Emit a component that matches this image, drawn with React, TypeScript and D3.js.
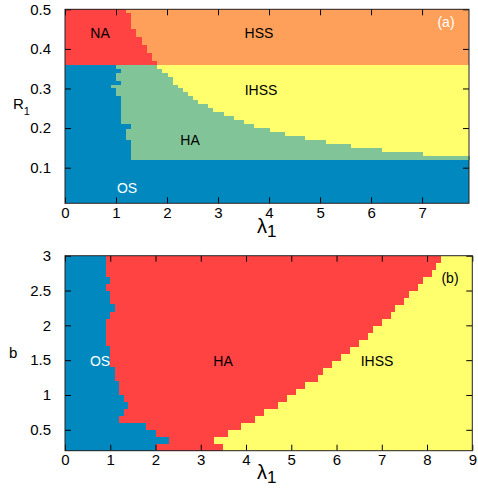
import React, { useEffect, useRef } from 'react'
import * as d3 from 'd3'

// colours of the phases
const cOS = '#0088bf'
const cHA = '#80c498'
const cIHSS = '#ffff6e'
const cHSS = '#ffa05a'
const cNA = '#ff4242'

// ---- panel (a): lambda_1 vs R_1 ----
const xTicksA = [0, 1, 2, 3, 4, 5, 6, 7]
const yTicksA = [0.1, 0.2, 0.3, 0.4, 0.5]

// NA region: rows (lower R of each band) and right edge in lambda_1
const naRows = [0.36, 0.37, 0.39, 0.41, 0.43, 0.45, 0.49]
const naEdge = [1.8, 1.7, 1.6, 1.5, 1.4, 1.3, 1.2]

// OS / HA border between R1 = 0.12 and 0.36, one value per 0.01 row
const rowsA = [0.12, 0.13, 0.14, 0.15, 0.16, 0.17, 0.18, 0.19, 0.2, 0.21, 0.22, 0.23,
  0.24, 0.25, 0.26, 0.27, 0.28, 0.29, 0.3, 0.31, 0.32, 0.33, 0.34, 0.35]
const osEdgeA = [1.3, 1.3, 1.3, 1.3, 1.3, 1.2, 1.2, 1.2, 1.3, 1.1, 1.1, 1.1,
  1.1, 1.1, 1.1, 1.1, 1.0, 1.0, 0.9, 1.1, 1.0, 1.0, 1.1, 1.0]

// HA / IHSS border: column start in lambda_1 and top of HA in R1
const haColStart = [0, 1.8, 1.9, 2.0, 2.1, 2.2, 2.3, 2.4, 2.5, 2.6, 2.8, 2.9, 3.1, 3.3,
  3.5, 3.7, 4.0, 4.3, 4.7, 5.1, 5.6, 6.2, 7.0]
const haTopA = [0.36, 0.35, 0.34, 0.33, 0.31, 0.3, 0.29, 0.28, 0.27, 0.26, 0.25, 0.24, 0.23, 0.22,
  0.21, 0.2, 0.19, 0.18, 0.17, 0.16, 0.15, 0.14, 0.13]

// ---- panel (b): lambda_1 vs b ----
const xTicksB = [0, 1, 2, 3, 4, 5, 6, 7, 8, 9]
const yTicksB = [0.5, 1, 1.5, 2, 2.5, 3]
const rowsB = [0.2, 0.3, 0.4, 0.5, 0.6, 0.7, 0.8, 0.9, 1.0, 1.1, 1.2, 1.3, 1.4, 1.5,
  1.6, 1.7, 1.8, 1.9, 2.0, 2.1, 2.2, 2.3, 2.4, 2.5, 2.6, 2.7, 2.8, 2.9]
const osEdgeB = [2.0, 2.3, 2.0, 1.8, 1.2, 1.3, 1.4, 1.3, 1.2, 1.2, 1.1, 1.1, 1.0, 1.0,
  1.0, 0.9, 0.9, 0.9, 0.9, 1.0, 1.1, 1.0, 1.0, 0.9, 1.0, 0.9, 0.9, 0.9]
const haEdgeB = [3.5, 3.3, 3.6, 3.9, 4.2, 4.4, 4.7, 4.9, 5.1, 5.3, 5.6, 5.7, 5.9, 6.1,
  6.3, 6.5, 6.7, 6.8, 7.0, 7.2, 7.3, 7.5, 7.6, 7.8, 7.9, 8.1, 8.2, 8.3]

const font = '"Liberation Sans", Arial, sans-serif'

const xA = d3.scaleLinear().domain([0, 7.92]).range([65, 469])
const yA = d3.scaleLinear().domain([0.01, 0.5]).range([203.3, 9.3])
const xB = d3.scaleLinear().domain([0, 9]).range([65, 472.3])
const yB = d3.scaleLinear().domain([0.2, 3]).range([450.7, 255.7])

type Lin = d3.ScaleLinear<number, number>

const Axes = ({ x, y, xt, yt }: { x: Lin; y: Lin; xt: number[]; yt: number[] }) => {
  const ref = useRef<SVGGElement>(null)
  useEffect(() => {
    const g = d3.select(ref.current)
    g.selectAll('*').remove()
    const [x0, x1] = x.range()
    const [y0, y1] = y.range()
    const fmt = d3.format('~g')
    g.append('g').attr('transform', `translate(0,${y0})`)
      .call(d3.axisBottom(x).tickValues(xt).tickSize(-6).tickPadding(4).tickFormat(fmt))
    g.append('g').attr('transform', `translate(${x0},0)`)
      .call(d3.axisLeft(y).tickValues(yt).tickSize(-6).tickPadding(14).tickFormat(fmt))
    g.append('g').attr('transform', `translate(0,${y1})`)
      .call(d3.axisTop(x).tickValues(xt).tickSize(-6).tickFormat(() => ''))
    g.append('g').attr('transform', `translate(${x1},0)`)
      .call(d3.axisRight(y).tickValues(yt).tickSize(-6).tickFormat(() => ''))
    g.selectAll('.domain').remove()
    g.selectAll('.tick line').attr('stroke', '#000')
    g.selectAll('g').attr('font-size', null).attr('font-family', null)
    g.selectAll('.tick text').attr('fill', '#000').style('font-size', '15px').style('font-family', font)
    g.append('rect').attr('x', x0).attr('y', y1).attr('width', x1 - x0).attr('height', y0 - y1)
      .attr('fill', 'none').attr('stroke', '#222').attr('stroke-width', 1)
  }, [x, y, xt, yt])
  return <g ref={ref} />
}

const Label = ({ x, y, t, c = '#000' }: { x: number; y: number; t: string; c?: string }) => (
  <text x={x} y={y} textAnchor="middle" dominantBaseline="central" fill={c} fontSize={14} fontFamily={font}>{t}</text>
)

const App = () => {
  const hi = (rows: number[], i: number, top: number) => (i + 1 < rows.length ? rows[i + 1] : top)
  return (
    <svg width={478} height={488} style={{ position: 'absolute', left: 0, top: 0, background: '#fff' }}>
      {/* panel (a) */}
      <g shapeRendering="crispEdges">
        <rect x={xA(0)} y={yA(0.5)} width={xA(7.92) - xA(0)} height={yA(0.01) - yA(0.5)} fill={cOS} />
        <rect x={xA(0)} y={yA(0.5)} width={xA(7.92) - xA(0)} height={yA(0.36) - yA(0.5)} fill={cHSS} />
        {naRows.map((r, i) => (
          <rect key={'na' + i} x={xA(0)} y={yA(hi(naRows, i, 0.5))} width={xA(naEdge[i]) - xA(0)}
            height={yA(r) - yA(hi(naRows, i, 0.5)) + 0.5} fill={cNA} />
        ))}
        <rect x={xA(0)} y={yA(0.36)} width={xA(7.92) - xA(0)} height={yA(0.12) - yA(0.36)} fill={cIHSS} />
        {haColStart.map((l, i) => (
          <rect key={'ha' + i} x={xA(l)} y={yA(haTopA[i])} width={xA(hi(haColStart, i, 7.92)) - xA(l) + 0.5}
            height={yA(0.12) - yA(haTopA[i])} fill={cHA} />
        ))}
        {rowsA.map((r, i) => (
          <rect key={'os' + i} x={xA(0)} y={yA(hi(rowsA, i, 0.36))} width={xA(osEdgeA[i]) - xA(0)}
            height={yA(r) - yA(hi(rowsA, i, 0.36)) + 0.5} fill={cOS} />
        ))}
      </g>
      <Axes x={xA} y={yA} xt={xTicksA} yt={yTicksA} />
      <Label x={100} y={33} t="NA" />
      <Label x={259} y={33} t="HSS" />
      <Label x={261} y={90} t="IHSS" />
      <Label x={190} y={140} t="HA" />
      <Label x={127} y={188} t="OS" c="#fff" />
      <Label x={446} y={22} t="(a)" c="#fff" />
      <text x={13} y={109} fontSize={15} fontFamily={font}>R<tspan fontSize={11} dy={6}>1</tspan></text>
      <text x={257} y={233} fontSize={20} fontFamily={font}>λ<tspan fontSize={17} dy={4}>1</tspan></text>

      {/* panel (b) */}
      <g shapeRendering="crispEdges">
        <rect x={xB(0)} y={yB(3)} width={xB(9) - xB(0)} height={yB(0.2) - yB(3)} fill={cIHSS} />
        {rowsB.map((r, i) => (
          <rect key={'hb' + i} x={xB(0)} y={yB(hi(rowsB, i, 3))} width={xB(haEdgeB[i]) - xB(0)}
            height={yB(r) - yB(hi(rowsB, i, 3)) + 0.5} fill={cNA} />
        ))}
        {rowsB.map((r, i) => (
          <rect key={'ob' + i} x={xB(0)} y={yB(hi(rowsB, i, 3))} width={xB(osEdgeB[i]) - xB(0)}
            height={yB(r) - yB(hi(rowsB, i, 3)) + 0.5} fill={cOS} />
        ))}
      </g>
      <Axes x={xB} y={yB} xt={xTicksB} yt={yTicksB} />
      <Label x={100} y={361} t="OS" c="#fff" />
      <Label x={223} y={361} t="HA" />
      <Label x={377} y={361} t="IHSS" />
      <Label x={450} y={278} t="(b)" />
      <text x={9} y={358} fontSize={15} fontFamily={font}>b</text>
      <text x={257} y={479} fontSize={20} fontFamily={font}>λ<tspan fontSize={17} dy={4}>1</tspan></text>
    </svg>
  )
}

export default App
